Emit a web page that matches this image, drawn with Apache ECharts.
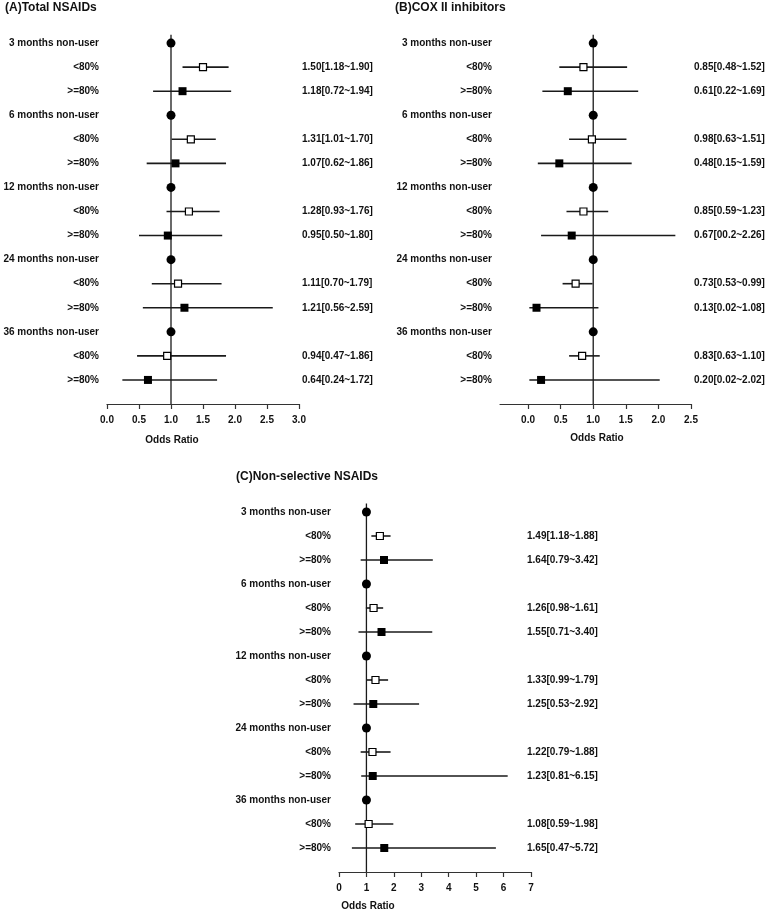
<!DOCTYPE html>
<html>
<head>
<meta charset="utf-8">
<script src="https://cdn.jsdelivr.net/npm/echarts@6/dist/echarts.min.js"></script>
<style>
html,body{margin:0;padding:0;background:#fff;}
#chart{width:768px;height:912px;}
</style>
</head>
<body>
<div id="chart"></div>
<script>
// ---------- data ----------
const rowLabels = ['3 months non-user','<80%','>=80%','6 months non-user','<80%','>=80%',
  '12 months non-user','<80%','>=80%','24 months non-user','<80%','>=80%',
  '36 months non-user','<80%','>=80%'];
const panelTitles = ['(A)Total NSAIDs','(B)COX II inhibitors','(C)Non-selective NSAIDs'];
const axisTitle = 'Odds Ratio';

const ticksA = [0,0.5,1,1.5,2,2.5,3];
const ticksB = [0,0.5,1,1.5,2,2.5];
const ticksC = [0,1,2,3,4,5,6,7];

// order per period: <80%, >=80%
const aOR = [1.50,1.18, 1.31,1.07, 1.28,0.95, 1.11,1.21, 0.94,0.64];
const aLo = [1.18,0.72, 1.01,0.62, 0.93,0.50, 0.70,0.56, 0.47,0.24];
const aHi = [1.90,1.94, 1.70,1.86, 1.76,1.80, 1.79,2.59, 1.86,1.72];
const aText = ['1.50[1.18~1.90]','1.18[0.72~1.94]','1.31[1.01~1.70]','1.07[0.62~1.86]',
  '1.28[0.93~1.76]','0.95[0.50~1.80]','1.11[0.70~1.79]','1.21[0.56~2.59]',
  '0.94[0.47~1.86]','0.64[0.24~1.72]'];

const bOR = [0.85,0.61, 0.98,0.48, 0.85,0.67, 0.73,0.13, 0.83,0.20];
const bLo = [0.48,0.22, 0.63,0.15, 0.59,0.20, 0.53,0.02, 0.63,0.02];
const bHi = [1.52,1.69, 1.51,1.59, 1.23,2.26, 0.99,1.08, 1.10,2.02];
const bText = ['0.85[0.48~1.52]','0.61[0.22~1.69]','0.98[0.63~1.51]','0.48[0.15~1.59]',
  '0.85[0.59~1.23]','0.67[00.2~2.26]','0.73[0.53~0.99]','0.13[0.02~1.08]',
  '0.83[0.63~1.10]','0.20[0.02~2.02]'];

const cOR = [1.49,1.64, 1.26,1.55, 1.33,1.25, 1.22,1.23, 1.08,1.65];
const cLo = [1.18,0.79, 0.98,0.71, 0.99,0.53, 0.79,0.81, 0.59,0.47];
const cHi = [1.88,3.42, 1.61,3.40, 1.79,2.92, 1.88,6.15, 1.98,5.72];
const cText = ['1.49[1.18~1.88]','1.64[0.79~3.42]','1.26[0.98~1.61]','1.55[0.71~3.40]',
  '1.33[0.99~1.79]','1.25[0.53~2.92]','1.22[0.79~1.88]','1.23[0.81~6.15]',
  '1.08[0.59~1.98]','1.65[0.47~5.72]'];

const refOR = 1;

// ---------- build ----------
const FONT = '"Liberation Sans", Arial, sans-serif';
const INK = '#111';
const LINE = '#1a1a1a';

const panels = [
  {or:aOR, lo:aLo, hi:aHi, text:aText, ticks:ticksA, min:0, max:3, dec:1,
   grid:{left:107, width:192, top:19, height:385}, rMargin:3,
   title:{x:5, y:8}, xt:{x:172, y:440}},
  {or:bOR, lo:bLo, hi:bHi, text:bText, ticks:ticksB, min:-0.43, max:2.5, dec:1,
   grid:{left:500, width:191, top:19, height:385}, rMargin:3,
   title:{x:395, y:8}, xt:{x:597, y:438}},
  {or:cOR, lo:cLo, hi:cHi, text:cText, ticks:ticksC, min:0, max:7, dec:0,
   grid:{left:339, width:192, top:488, height:384}, rMargin:-4,
   title:{x:236, y:477}, xt:{x:368, y:906}}
];

const grids = [], xAxes = [], yAxes = [], series = [], graphics = [];

panels.forEach((p, i) => {
  grids.push(Object.assign({containLabel:false}, p.grid));
  const rowText = {};
  for (let k = 0; k < 10; k++) {
    const per = Math.floor(k / 2), g = k % 2;
    rowText[2 + 3*per + g] = p.text[k];
  }
  xAxes.push({
    gridIndex:i, type:'value', min:p.min, max:p.max,
    axisLine:{show:true, onZero:false, lineStyle:{color:'#333', width:1.2}},
    axisTick:{show:true, length:5, lineStyle:{color:'#333', width:1.2}, customValues:p.ticks},
    axisLabel:{customValues:p.ticks, margin:11, fontSize:10, fontWeight:'bold',
      fontFamily:FONT, color:INK, formatter:v => Number(v).toFixed(p.dec)},
    splitLine:{show:false}
  });
  const yBase = {
    gridIndex:i, type:'value', inverse:true, min:0, max:16, interval:1,
    axisLine:{show:false}, axisTick:{show:false}, splitLine:{show:false}
  };
  yAxes.push(Object.assign({}, yBase, {
    position:'left',
    axisLabel:{margin:8, fontSize:10, fontWeight:'bold', fontFamily:FONT, color:INK,
      formatter:v => rowLabels[v-1] || ''}
  }));
  yAxes.push(Object.assign({}, yBase, {
    position:'right',
    axisLabel:{margin:p.rMargin, fontSize:10, fontWeight:'bold', fontFamily:FONT, color:INK,
      align:'left', formatter:v => rowText[v] || ''}
  }));
  const xi = i, yi = 2*i;

  series.push({
    type:'custom', xAxisIndex:xi, yAxisIndex:yi, silent:true, z:1,
    data:[[refOR, 0.65, 16]],
    renderItem:(params, api) => {
      const a = api.coord([api.value(0), api.value(1)]);
      const b = api.coord([api.value(0), api.value(2)]);
      return {type:'line', shape:{x1:a[0], y1:a[1], x2:b[0], y2:b[1]},
        style:{stroke:LINE, lineWidth:1.3}};
    }
  });
  const ciData = [];
  for (let k = 0; k < 10; k++) {
    const per = Math.floor(k / 2), g = k % 2;
    ciData.push([p.lo[k], p.hi[k], 2 + 3*per + g]);
  }
  series.push({
    type:'custom', xAxisIndex:xi, yAxisIndex:yi, silent:true, z:2,
    data:ciData,
    renderItem:(params, api) => {
      const a = api.coord([api.value(0), api.value(2)]);
      const b = api.coord([api.value(1), api.value(2)]);
      return {type:'line', shape:{x1:a[0], y1:a[1], x2:b[0], y2:b[1]},
        style:{stroke:LINE, lineWidth:1.6}};
    }
  });
  const circ = [0,1,2,3,4].map(per => [refOR, 1 + 3*per]);
  series.push({type:'scatter', xAxisIndex:xi, yAxisIndex:yi, z:3, symbol:'circle', symbolSize:9,
    itemStyle:{color:'#000', opacity:1}, data:circ, silent:true});
  const openSq = [], fillSq = [];
  for (let k = 0; k < 10; k++) {
    const per = Math.floor(k / 2), g = k % 2;
    (g === 0 ? openSq : fillSq).push([p.or[k], 2 + 3*per + g]);
  }
  series.push({type:'scatter', xAxisIndex:xi, yAxisIndex:yi, z:4, symbol:'rect', symbolSize:7,
    itemStyle:{color:'#fff', borderColor:'#000', borderWidth:1.2, opacity:1}, data:openSq, silent:true});
  series.push({type:'scatter', xAxisIndex:xi, yAxisIndex:yi, z:4, symbol:'rect', symbolSize:8,
    itemStyle:{color:'#000', opacity:1}, data:fillSq, silent:true});

  graphics.push({type:'text', x:p.title.x, y:p.title.y,
    style:{text:panelTitles[i], font:'bold 12px ' + FONT, fill:INK, verticalAlign:'middle'}});
  graphics.push({type:'text', x:p.xt.x, y:p.xt.y,
    style:{text:axisTitle, font:'bold 10px ' + FONT, fill:INK, align:'center', verticalAlign:'middle'}});
});

const chart = echarts.init(document.getElementById('chart'), null, {renderer:'canvas'});
chart.setOption({
  animation:false,
  backgroundColor:'#fff',
  grid:grids, xAxis:xAxes, yAxis:yAxes, series:series, graphic:graphics
});
</script>
</body>
</html>
